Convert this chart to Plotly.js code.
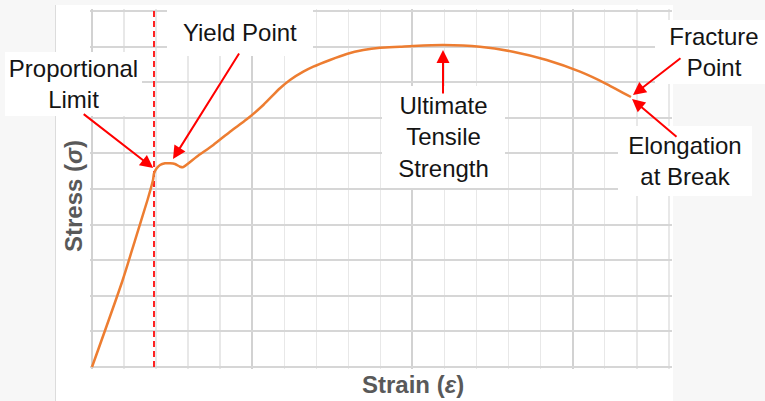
<!DOCTYPE html>
<html>
<head>
<meta charset="utf-8">
<script src="https://cdn.plot.ly/plotly-3.0.1.min.js"></script>
<style>html,body{margin:0;padding:0;background:#f7f7f7;}#chart{width:765px;height:401px;}</style>
</head>
<body>
<div id="chart"></div>
<script>
// Curve (arbitrary units: 1 unit = one grid cell)
const strain = [0, 0.958, 1.345, 1.732, 1.904, 1.935, 2.019, 2.122, 2.278, 2.434, 2.590, 2.746, 2.830, 3.267, 3.785, 4.307, 4.828, 5.346, 5.867, 6.179, 6.594, 6.906, 7.427, 7.948, 8.466, 8.988, 9.612, 10.017, 10.963, 12.108, 13.138, 14.190, 15.229, 16.062, 16.820];
const stress = [0, 2.444, 3.567, 4.691, 5.253, 5.441, 5.581, 5.674, 5.722, 5.722, 5.702, 5.626, 5.610, 5.907, 6.236, 6.610, 6.958, 7.360, 7.829, 8.062, 8.295, 8.435, 8.624, 8.792, 8.904, 8.969, 8.997, 9.017, 9.045, 8.997, 8.857, 8.624, 8.295, 7.949, 7.584];
const proportionalLimitStrain = 1.935;

// Annotation labels and the points they point to
const labelTexts = ["Proportional<br>Limit", "Yield Point", "Ultimate<br>Tensile<br>Strength", "Fracture<br>Point", "Elongation<br>at Break"];
const targetStrain = [1.91, 2.528, 10.954, 16.882, 16.852];
const targetStress = [5.59, 5.843, 8.904, 7.640, 7.528];

const xTitle = "Strain (<i>ε</i>)";
const yTitle = "Stress (<i>σ</i>)";

// layout geometry (pixels)
const W = 765, H = 401, L = 90, R = 93, T = 9, B = 32;
const pw = W - L - R, ph = H - T - B;
const px2paperX = p => (p - L) / pw;
const px2paperY = p => (H - B - p) / ph;

// label boxes: [centerX, centerY, width, height] in px
const boxes = [[73, 84, 137, 64], [240, 33, 146, 47], [443.5, 137, 123, 102], [714, 52, 118, 64], [685, 161, 134, 70]];
// arrow tail offsets in px relative to head
const tails = [[-71, -55], [67, -107], [0, 45], [49, -38], [46, 39]];

const annotations = [];
labelTexts.forEach((t, i) => {
  const b = boxes[i];
  annotations.push({
    xref: 'paper', yref: 'paper', x: px2paperX(b[0]), y: px2paperY(b[1]),
    xanchor: 'center', yanchor: 'middle', width: b[2], height: b[3],
    text: t, showarrow: false, bgcolor: '#ffffff', borderpad: 0, borderwidth: 0,
    align: 'center', valign: 'middle',
    font: {family: 'Liberation Sans, Arial, sans-serif', size: 24, color: '#141414'}
  });
});
labelTexts.forEach((t, i) => {
  annotations.push({
    xref: 'x', yref: 'y', x: targetStrain[i], y: targetStress[i],
    axref: 'pixel', ayref: 'pixel', ax: tails[i][0], ay: tails[i][1],
    text: '', showarrow: true, arrowhead: 2, arrowsize: 1.3, arrowwidth: 2,
    arrowcolor: '#ff0000', standoff: 0, startstandoff: 0
  });
});
annotations.push({
  xref: 'paper', yref: 'paper', x: px2paperX(413), y: px2paperY(384),
  xanchor: 'center', yanchor: 'middle', text: xTitle, showarrow: false,
  font: {family: 'Liberation Sans, Arial, sans-serif', size: 24, color: '#595959', weight: 'bold'}
});
annotations.push({
  xref: 'paper', yref: 'paper', x: px2paperX(74), y: px2paperY(196),
  xanchor: 'center', yanchor: 'middle', text: yTitle, showarrow: false, textangle: -90,
  font: {family: 'Liberation Sans, Arial, sans-serif', size: 24, color: '#595959', weight: 'bold'}
});

const traces = [
  {x: [proportionalLimitStrain, proportionalLimitStrain], y: [0, 10], mode: 'lines',
   line: {color: '#ff2222', width: 2, dash: '6px,4px'}, hoverinfo: 'skip', showlegend: false},
  {x: strain, y: stress, mode: 'lines', line: {color: '#ED7D31', width: 2.5, shape: 'spline', smoothing: 0.7},
   showlegend: false}
];

const layout = {
  width: W, height: H,
  margin: {l: L, r: R, t: T, b: B, pad: 0},
  paper_bgcolor: '#f7f7f7', plot_bgcolor: '#ffffff',
  xaxis: {range: [-2 / 32.044, 18.1], tick0: 0, dtick: 5, showgrid: true, gridcolor: '#d2d2d2', gridwidth: 2,
          minor: {dtick: 1, showgrid: true, gridcolor: '#e8e8e8', gridwidth: 1.5},
          showticklabels: false, ticks: '', zeroline: true, zerolinecolor: '#d2d2d2', zerolinewidth: 2,
          showline: false, fixedrange: true},
  yaxis: {range: [-2 / 35.6, 10 + 2 / 35.6], tick0: 0, dtick: 1, showgrid: true, gridcolor: '#d6d6d6', gridwidth: 2,
          showticklabels: false, ticks: '', zeroline: true, zerolinecolor: '#d6d6d6', zerolinewidth: 2,
          showline: false, fixedrange: true},
  shapes: [
    {type: 'rect', xref: 'paper', yref: 'paper', x0: px2paperX(55), x1: px2paperX(673), y0: px2paperY(410), y1: px2paperY(5),
     fillcolor: '#ffffff', line: {width: 0}, layer: 'below'},
    {type: 'line', xref: 'paper', yref: 'paper', x0: px2paperX(55.5), x1: px2paperX(55.5), y0: px2paperY(410), y1: px2paperY(5),
     line: {color: '#dcdcdc', width: 1}, layer: 'below'}
  ],
  annotations: annotations
};

Plotly.newPlot('chart', traces, layout, {displayModeBar: false, staticPlot: true});
</script>
</body>
</html>
